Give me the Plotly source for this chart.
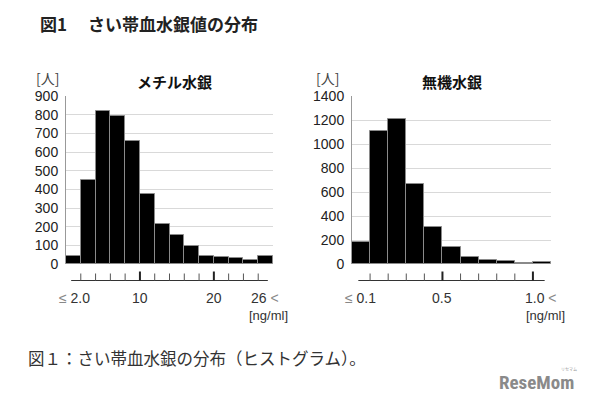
import plotly.graph_objects as go

# ---- data ----
meth_bin_start = [0, 2, 4, 6, 8, 10, 12, 14, 16, 18, 20, 22, 24, 26]
meth_counts = [42, 450, 822, 793, 661, 376, 212, 153, 94, 43, 39, 32, 21, 41]
meth_ticks = [2, 4, 6, 8, 10, 12, 14, 16, 18, 20, 22, 24, 26]
meth_major = [10, 20]
meth_label_pos = [2, 10, 20, 26]
meth_label_txt = ["<span style='color:#888'>≤</span> 2.0", "10", "20", "26 <span style='color:#888'><</span>"]

inorg_bin_start = [0.0, 0.1, 0.2, 0.3, 0.4, 0.5, 0.6, 0.7, 0.8, 0.9, 1.0]
inorg_counts = [183, 1106, 1209, 665, 305, 141, 61, 33, 25, 8, 19]
inorg_ticks = [0.1, 0.2, 0.3, 0.4, 0.5, 0.6, 0.7, 0.8, 0.9, 1.0]
inorg_major = [0.5, 1.0]
inorg_label_pos = [0.1, 0.5, 1.0]
inorg_label_txt = ["<span style='color:#888'>≤</span> 0.1", "0.5", "1.0 <span style='color:#888'><</span>"]

W, H = 610, 400
def px(x):
    return x / W
def py(y):
    return 1 - y / H

JP = "Noto Sans CJK JP"
EN = "Liberation Sans, Arial"

fig = go.Figure()
mw = 2
iw = 0.1
fig.add_trace(go.Bar(x=[s + mw / 2 for s in meth_bin_start], y=meth_counts, width=mw,
                     marker=dict(color="black", line=dict(color="#8a8a8a", width=1)),
                     xaxis="x", yaxis="y", showlegend=False))
fig.add_trace(go.Bar(x=[s + iw / 2 for s in inorg_bin_start], y=inorg_counts, width=iw,
                     marker=dict(color="black", line=dict(color="#8a8a8a", width=1)),
                     xaxis="x2", yaxis="y2", showlegend=False))

ydom = [py(264), py(96)]
fig.update_layout(
    width=W, height=H, margin=dict(l=0, r=0, t=0, b=0),
    paper_bgcolor="white", plot_bgcolor="white",
    xaxis=dict(domain=[px(66), px(273)], range=[0, 28], visible=False, anchor="y", automargin=False),
    yaxis=dict(domain=ydom, range=[0, 900], dtick=100, showgrid=True, gridcolor="#d9d9d9",
               zeroline=False, showline=True, linecolor="#999", linewidth=1, ticks="",
               tickfont=dict(family=EN, size=14, color="#222"), anchor="x",
               ticklabelstandoff=4, automargin=False),
    xaxis2=dict(domain=[px(352), px(551)], range=[0, 1.1], visible=False, anchor="y2", automargin=False),
    yaxis2=dict(domain=ydom, range=[0, 1400], dtick=200, showgrid=True, gridcolor="#d9d9d9",
                zeroline=False, showline=True, linecolor="#999", linewidth=1, ticks="",
                tickfont=dict(family=EN, size=14, color="#222"), anchor="x2",
                ticklabelstandoff=4, automargin=False),
    bargap=0,
)

shapes = []
ann = []
line_y = py(280.5)
minor_top = py(273.5)
major_top = py(271.5)

def tick_axis(xref, ticks, major, step):
    shapes.append(dict(type="line", xref=xref, yref="paper", x0=ticks[0] - 0.65 * step,
                       x1=ticks[-1] + 0.65 * step, y0=line_y, y1=line_y,
                       line=dict(color="#333", width=1)))
    for t in ticks:
        is_major = any(abs(t - m) < 1e-9 for m in major)
        shapes.append(dict(type="line", xref=xref, yref="paper", x0=t, x1=t,
                           y0=line_y, y1=major_top if is_major else minor_top,
                           line=dict(color="#222" if is_major else "#555", width=2 if is_major else 1)))

tick_axis("x", meth_ticks, meth_major, 2)
tick_axis("x2", inorg_ticks, inorg_major, 0.1)

def labels(xref, pos, txt, shifts):
    for p, t, s in zip(pos, txt, shifts):
        ann.append(dict(xref=xref, yref="paper", x=p, y=py(298), text=t, showarrow=False,
                        xanchor="center", yanchor="middle", xshift=s,
                        font=dict(family=EN, size=14, color="#333")))

labels("x", meth_label_pos, meth_label_txt, [-6, 0, 0, 7])
labels("x2", inorg_label_pos, inorg_label_txt, [-10, 0, 8])

def txt(x, y, t, size, color="#222", bold=False, family=JP, xanchor="center"):
    ann.append(dict(xref="paper", yref="paper", x=px(x), y=py(y), text=f"<b>{t}</b>" if bold else t,
                    showarrow=False, xanchor=xanchor, yanchor="middle",
                    font=dict(family=family, size=size, color=color)))

txt(38, 23, "図1　 さい帯血水銀値の分布", 17, "#222", True, JP, "left")
txt(174, 82, "メチル水銀", 15, "#111", True)
txt(452, 82, "無機水銀", 15, "#111", True)
txt(47, 78, "[人]", 14, "#444")
txt(327, 78, "[人]", 14, "#444")
txt(268, 315, "[ng/ml]", 13, "#333", False, EN)
txt(545, 315, "[ng/ml]", 13, "#333", False, EN)
txt(26, 358, "図１：さい帯血水銀の分布（ヒストグラム）。", 16.5, "#333", False, JP, "left")
txt(536, 382, "ReseMom", 19, "#8a8a8a", True, "Roboto Condensed, Roboto, Liberation Sans Narrow")
txt(569, 369, "リセマム", 4, "#999")

fig.update_layout(shapes=shapes, annotations=ann)
fig.write_html("out.html", config={"displayModeBar": False},
               post_script="document.body.style.margin='0';")
